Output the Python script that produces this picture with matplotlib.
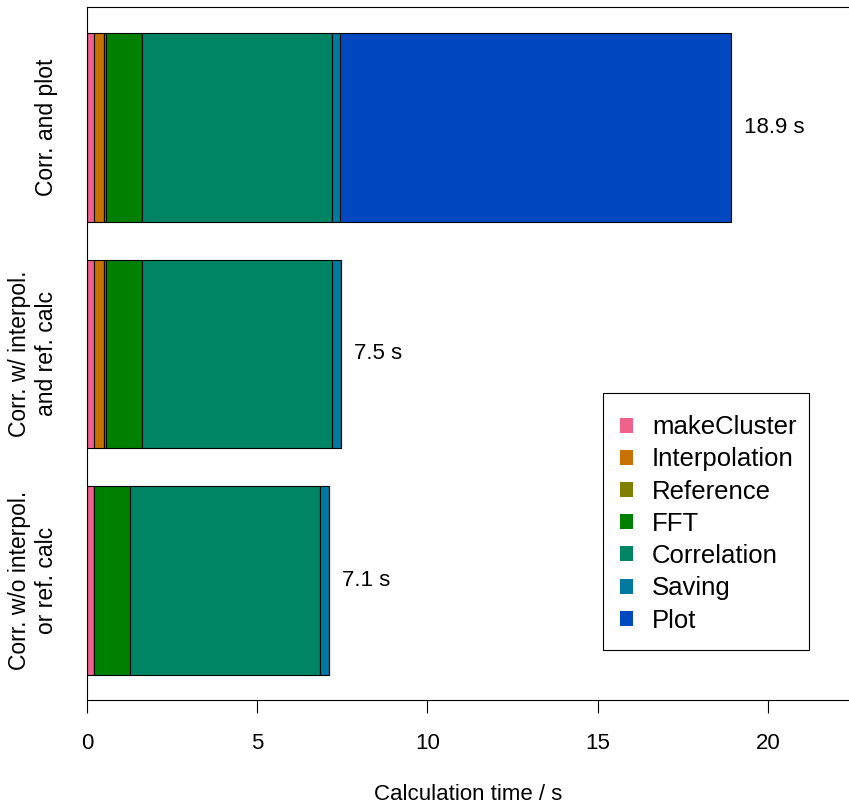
import numpy as np
import matplotlib.pyplot as plt
from matplotlib.patches import Patch, Rectangle

plt.rcParams['font.family'] = ['Liberation Sans', 'DejaVu Sans']
plt.rcParams['font.size'] = 16

# cases, bottom to top
cases = ['Corr. w/o interpol.\nor ref. calc',
         'Corr. w/ interpol.\nand ref. calc',
         'Corr. and plot']
total_labels = ['7.1 s', '7.5 s', '18.9 s']

tasks = ['makeCluster', 'Interpolation', 'Reference', 'FFT',
         'Correlation', 'Saving', 'Plot']
colors = ['#F0628C', '#C87000', '#808000', '#008000',
          '#008564', '#0079A0', '#0048C0']

# times per task (s), one value per case
make_cluster = [0.21, 0.21, 0.21]
interpolation = [0.00, 0.30, 0.30]
reference = [0.00, 0.06, 0.06]
fft = [1.05, 1.05, 1.05]
correlation = [5.58, 5.58, 5.58]
saving = [0.26, 0.25, 0.24]
plot_time = [0.00, 0.00, 11.46]

times = [make_cluster, interpolation, reference, fft,
         correlation, saving, plot_time]

fig = plt.figure(figsize=(8.49, 8.05), dpi=100)
ax = fig.add_axes([87/849, 1 - 700/805, 1 - 87/849, 693/805])

ypos = np.array([0.7, 1.9, 3.1])
left = np.zeros(3)
for name, vals, col in zip(tasks, times, colors):
    ax.barh(ypos, vals, height=1.0, left=left, color=col,
            edgecolor='black', linewidth=0.8)
    left = left + np.array(vals)

for y, tot, lab in zip(ypos, left, total_labels):
    ax.text(tot + 0.4, y, lab, va='center', ha='left')

ax.set_xlim(0, 22.38)
ax.set_ylim(0.067, 3.738)
ax.set_xticks([0, 5, 10, 15, 20])
ax.set_yticks(ypos)
ax.set_yticklabels(cases, rotation=90, va='center', multialignment='center',
                   fontsize=16.5)
ax.tick_params(axis='y', length=0, pad=21)
ax.tick_params(axis='x', length=9.5, width=0.8, pad=14)
ax.spines['right'].set_visible(False)
for s in ['top', 'bottom', 'left']:
    ax.spines[s].set_linewidth(0.8)
ax.set_xlabel('Calculation time / s', labelpad=22)

# legend box drawn separately so the padding matches
ax.add_patch(Rectangle((0.677, 0.0722), 0.9475 - 0.677, 0.443 - 0.0722,
                       transform=ax.transAxes, facecolor='white',
                       edgecolor='black', linewidth=0.8, zorder=4))
handles = [Patch(facecolor=c, edgecolor='none') for c in colors]
leg = ax.legend(handles, tasks, loc='upper left', fontsize=18.5,
                bbox_to_anchor=(0.6995, 0.411), borderaxespad=0,
                borderpad=0, frameon=False,
                handlelength=0.52, handleheight=0.52, handletextpad=0.72,
                labelspacing=0.32)
leg.set_zorder(5)

fig.savefig('out.png', dpi=100)
